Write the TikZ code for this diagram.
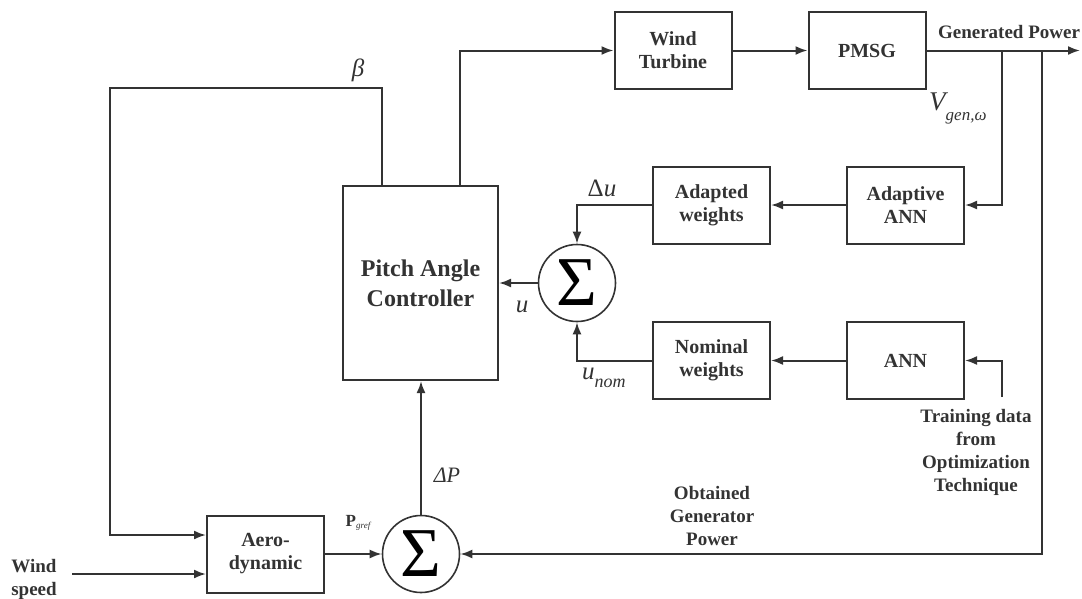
\documentclass[tikz,border=0pt]{standalone}
\usepackage{fontspec}
\setmainfont{Liberation Serif}
\usetikzlibrary{arrows.meta}
\definecolor{ln}{gray}{0.2}
\tikzset{
  blk/.style={draw=ln, line width=2pt, minimum width=117pt, minimum height=77pt, align=center,
              font=\fontsize{20}{23}\selectfont\bfseries, inner sep=0pt, text=ln},
  sumnode/.style={draw=ln, line width=1.6pt, circle, minimum size=77pt, inner sep=0pt,
              font=\fontsize{70}{70}\selectfont},
  conn/.style={draw=ln, line width=2pt},
  arr/.style={conn, -{Latex[length=12pt,width=9pt]}},
  lbl/.style={font=\fontsize{19}{23}\selectfont\bfseries, align=center, inner sep=0pt, text=ln},
  mlbl/.style={font=\fontsize{25}{27}\selectfont\itshape, inner sep=0pt, text=ln},
}
\begin{document}
\begin{tikzpicture}[x=1pt,y=-1pt]
\useasboundingbox (0,0) rectangle (1082,598);
% blocks
\node[blk] (wt) at (673,50.5) {Wind\\Turbine};
\node[blk] (pmsg) at (867,50.5) {PMSG};
\node[blk, minimum width=155pt, minimum height=194pt, font=\fontsize{24}{30}\selectfont\bfseries] (pac) at (420.5,283) {Pitch Angle\\Controller};
\node[sumnode] (s1) at (577,283) {Σ};
\node[blk] (aw) at (711.5,205) {Adapted\\weights};
\node[blk] (aann) at (905.5,205) {Adaptive\\ANN};
\node[blk] (nw) at (711.5,360.5) {Nominal\\weights};
\node[blk] (ann) at (905.5,360.5) {ANN};
\node[blk] (aero) at (265.5,554) {Aero-\\dynamic};
\node[sumnode] (s2) at (421,554) {Σ};
% helper coordinates
\coordinate (b1) at (382,88);
\coordinate (b2) at (110,88);
\coordinate (yb) at (0,535);
\coordinate (ws) at (72,574);
\coordinate (t1) at (460,50.5);
\coordinate (gp) at (1080,50.5);
\coordinate (v1) at (1002,50.5);
\coordinate (f1) at (1042,50.5);
\coordinate (td) at (1002,397);
% connectors
\draw[arr] (pac.north -| b1) -- (b1) -- (b2) |- (aero.west |- yb);
\draw[arr] (ws) -- (aero.west |- ws);
\draw[arr] (pac.north -| t1) -- (t1) -- (wt.west);
\draw[arr] (wt.east) -- (pmsg.west);
\draw[arr] (pmsg.east) -- (gp);
\draw[arr] (v1) |- (aann.east);
\draw[arr] (f1) |- (s2.east);
\draw[arr] (aann.west) -- (aw.east);
\draw[arr] (aw.west) -| (s1.north);
\draw[arr] (ann.west) -- (nw.east);
\draw[arr] (nw.west) -| (s1.south);
\draw[arr] (s1.west) -- (pac.east);
\draw[arr] (td) |- (ann.east);
\draw[arr] (s2.north) -- (pac.south -| s2.north);
\draw[arr] (aero.east) -- (s2.west);
% labels
\node[lbl] (lgp) at (1009,32) {Generated Power};
\node[lbl] (lws) at (34,579) {Wind\\speed};
\node[lbl] (lobt) at (712,516) {Obtained\\Generator\\Power};
\node[lbl] (ltd) at (976,452) {Training data\\from\\Optimization\\Technique};
\node[mlbl] (lbeta) at (358,70) {β};
\node[mlbl] (ldu) at (602,188) {{\upshape Δ}u};
\node[mlbl] (lu) at (522,307) {u};
\node[mlbl, anchor=west] (lunom) at (582,378) {u\raisebox{-8pt}{\fontsize{18}{18}\selectfont nom}};
\node[mlbl, anchor=west, font=\fontsize{27}{29}\selectfont\itshape] (lv) at (929,108) {V\raisebox{-10pt}{\fontsize{17}{17}\selectfont gen,ω}};
\node[mlbl, font=\fontsize{22}{24}\selectfont\itshape] (ldp) at (447,475) {ΔP};
\node[inner sep=0pt, text=ln] (lpg) at (358,523) {{\fontsize{17}{17}\selectfont\bfseries P}\raisebox{-2pt}{\fontsize{9}{9}\selectfont\itshape gref}};
\end{tikzpicture}
\end{document}
